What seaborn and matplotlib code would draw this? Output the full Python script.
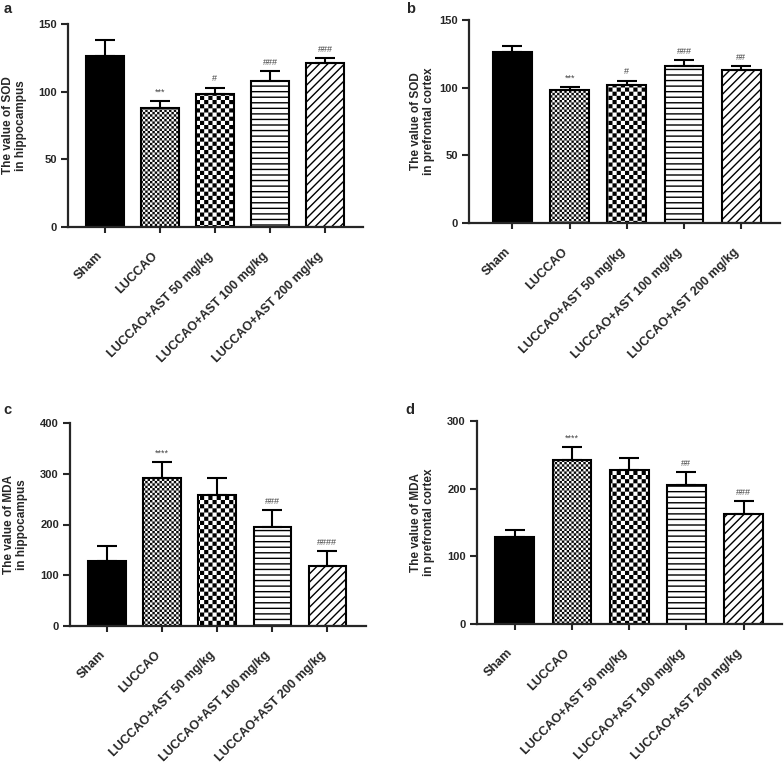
import numpy as np
import matplotlib
matplotlib.use('Agg')
import matplotlib.pyplot as plt
import matplotlib.hatch as mhatch
from matplotlib.path import Path
from matplotlib.transforms import ScaledTranslation
import seaborn as sns

# --- data ---
groups = ['Sham', 'LUCCAO', 'LUCCAO+AST 50 mg/kg',
          'LUCCAO+AST 100 mg/kg', 'LUCCAO+AST 200 mg/kg']

sod_hippo = [126, 88, 98, 108, 121]
sod_hippo_err = [12, 5, 5, 7, 4]
sod_hippo_sig = ['', '***', '#', '###', '###']

sod_pfc = [126, 98, 102, 116, 113]
sod_pfc_err = [4.5, 2.2, 3.2, 4.4, 2.7]
sod_pfc_sig = ['', '***', '#', '###', '##']

mda_hippo = [129, 291, 258, 195, 119]
mda_hippo_err = [28, 33, 33, 34, 29]
mda_hippo_sig = ['', '****', '', '###', '####']

mda_pfc = [128, 242, 228, 205, 162]
mda_pfc_err = [11, 19, 18, 20, 20]
mda_pfc_sig = ['', '****', '', '##', '###']

bar_colors = ['black', 'white', 'white', 'white', 'white']
bar_hatches = [None, 'OOOOOOO', 'OOOO', '---', '////']


# checkerboard hatch, hooked onto the 'O' character (large circles not used here)
class CheckerHatch(mhatch.HatchPatternBase):
    def __init__(self, hatch, density):
        n = int(hatch.count('O') * density)
        self.n = n + n % 2
        self.num_vertices = (self.n * self.n // 2) * 5

    def set_vertices_and_codes(self, vertices, codes):
        s = 1.0 / self.n
        pad = plt.rcParams['hatch.linewidth'] / 72.0 / 2
        k = 0
        for i in range(self.n):
            for j in range(self.n):
                if (i + j) % 2:
                    continue
                x0, y0 = i * s + pad, j * s + pad
                x1, y1 = (i + 1) * s - pad, (j + 1) * s - pad
                vertices[k:k + 5] = [(x0, y0), (x1, y0), (x1, y1), (x0, y1), (x0, y0)]
                codes[k:k + 5] = [Path.MOVETO, Path.LINETO, Path.LINETO,
                                  Path.LINETO, Path.CLOSEPOLY]
                k += 5


mhatch._hatch_types[mhatch._hatch_types.index(mhatch.LargeCircles)] = CheckerHatch

sns.set_style('ticks')
plt.rcParams['font.family'] = ['Liberation Sans', 'DejaVu Sans']
plt.rcParams['font.weight'] = 'bold'
plt.rcParams['hatch.linewidth'] = 1.0

W, H = 784, 777
fig = plt.figure(figsize=(W / 100, H / 100), dpi=100)
shift_left = ScaledTranslation(-8 / 100, 0, fig.dpi_scale_trans)


def panel(box, xlim, vals, errs, sigs, ylim, ystep, ylabel, label_px):
    left, right, top, bottom = box
    ax = fig.add_axes([left / W, 1 - bottom / H, (right - left) / W, (bottom - top) / H])
    sns.barplot(x=groups, y=vals, hue=groups, palette=bar_colors, legend=False,
                edgecolor='black', linewidth=1.5, width=0.68, errorbar=None,
                saturation=1, ax=ax)
    for p, h in zip(ax.patches, bar_hatches):
        if h:
            p.set_hatch(h)
    x = np.arange(len(groups))
    ax.errorbar(x, vals, yerr=[np.zeros(len(vals)), errs], fmt='none',
                ecolor='black', elinewidth=1.5, capsize=7, capthick=1.5, zorder=1)
    for i in range(len(groups)):
        if sigs[i]:
            ax.annotate(sigs[i], (i, vals[i] + errs[i]), xytext=(0, 3),
                        textcoords='offset points', ha='center', va='bottom',
                        fontsize=6.5, color='#444444', fontweight='normal')
    ax.set_xlim(*xlim)
    ax.set_ylim(*ylim)
    ax.set_yticks(np.arange(ylim[0], ylim[1] + 1, ystep))
    ax.set_xlabel('')
    ax.set_ylabel(ylabel, fontsize=8.5, fontweight='bold', linespacing=1.15)
    ax.yaxis.set_label_coords((label_px - left) / (right - left), 0.5)
    sns.despine(ax=ax)
    for s in ['left', 'bottom']:
        ax.spines[s].set_linewidth(1.6)
    ax.tick_params(axis='y', width=1.5, length=5, labelsize=8, pad=3)
    ax.tick_params(axis='x', width=1.5, length=4.5, labelsize=9, pad=12)
    ax.set_xticks(x)
    ax.set_xticklabels(groups, rotation=45, ha='right', rotation_mode='anchor',
                       fontweight='bold')
    for t in ax.get_xticklabels():
        t.set_transform(t.get_transform() + shift_left)
    for t in ax.get_yticklabels():
        t.set_fontweight('bold')
    return ax


panel((68, 363, 24, 227), (-0.67, 4.69), sod_hippo, sod_hippo_err, sod_hippo_sig,
      (0, 150), 50, 'The value of SOD\nin hippocampus', 27)
panel((469, 780, 20, 223), (-0.76, 4.68), sod_pfc, sod_pfc_err, sod_pfc_sig,
      (0, 150), 50, 'The value of SOD\nin prefrontal cortex', 435)
panel((70, 366, 423, 626), (-0.67, 4.70), mda_hippo, mda_hippo_err, mda_hippo_sig,
      (0, 400), 100, 'The value of MDA\nin hippocampus', 28)
panel((477, 782, 421, 624), (-0.66, 4.67), mda_pfc, mda_pfc_err, mda_pfc_sig,
      (0, 300), 100, 'The value of MDA\nin prefrontal cortex', 435)

for lab, px, py in [('a', 4, 13), ('b', 406, 13), ('c', 3, 414), ('d', 405, 414)]:
    fig.text(px / W, 1 - py / H, lab, fontsize=10.5, fontweight='bold', va='baseline')

fig.savefig('out.png', dpi=100)
